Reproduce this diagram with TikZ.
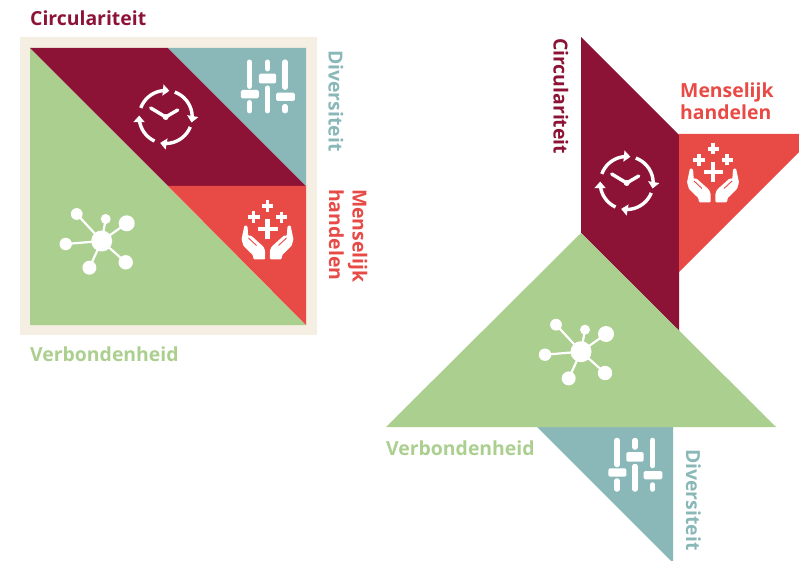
\documentclass[tikz,border=0pt]{standalone}
\usepackage{fontspec}
\setmainfont{Open Sans}
\usetikzlibrary{arrows.meta}
\definecolor{cmaroon}{HTML}{8C1336}
\definecolor{cteal}{HTML}{8AB8B8}
\definecolor{cred}{HTML}{E84A45}
\definecolor{cgreen}{HTML}{ABCF8F}
\definecolor{cbeige}{HTML}{F5EEE2}
\tikzset{
  x=1pt,y=-1pt,
  lab/.style={inner sep=0pt,font=\fontsize{19.4}{24}\selectfont\bfseries},
  vlab/.style={lab,rotate=-90,anchor=base west},
  hlab/.style={lab,anchor=base west},
  arcline/.style={white,line width=3.4pt,-{Triangle[length=6.5pt,width=11pt]}},
  clockicon/.pic={
    \foreach \a/\b in {200/278,290/372,382/462,475/543}{
      \draw[arcline] plot[smooth,domain=\a:\b,samples=12] ({26.5*cos(\x)},{26.5*sin(\x)});
    }
    \draw[white,line width=3.4pt,line cap=round] (-15,-9) -- (0,0) -- (12,-7);
    \fill[white] (0,0) circle (3);
  },
  bar/.style={white,line width=5.5pt,line cap=round},
  slidericon/.pic={
    \draw[bar] (-18,-24.5) -- (-18,-0.5) (-18,16) -- (-18,24);
    \draw[bar] (0,-24.5) -- (0,-18) (0,1.5) -- (0,24);
    \draw[bar] (17.7,-24.5) -- (17.7,0.5) (17.7,20) -- (17.7,24);
    \fill[white,rounded corners=1.5pt] (-26.7,3.3) rectangle (-8.7,11.7);
    \fill[white,rounded corners=1.5pt] (-8.7,-13) rectangle (8.7,-3.3);
    \fill[white,rounded corners=1.5pt] (8.7,6) rectangle (27.3,14.3);
  },
  neticon/.pic={
    \foreach \p/\q/\r in {-25/-27/5.9,4/-22/5,25/-17.7/8,-36/3/6.2,-12.3/26.7/7,24/21.3/7.2}{
      \draw[white,line width=2.2pt] (0,0) -- (\p,\q);
      \fill[white] (\p,\q) circle (\r);
    }
    \fill[white] (0,0) circle (10.5);
  },
  pluss/.style={white,line width=3.5pt},
  handicon/.pic={
    \draw[white,line width=4.6pt] (-9.5,-2) -- (10,-2) (0,-12) -- (0,8);
    \draw[pluss] (-5.5,-25) -- (5.5,-25) (0,-30.5) -- (0,-19.5);
    \draw[pluss] (-20,-14) -- (-8,-14) (-14,-20) -- (-14,-8);
    \draw[pluss] (8.5,-14) -- (19.5,-14) (14,-19.5) -- (14,-8.5);
    \foreach \s in {1,-1}{
      \begin{scope}[xscale=\s]
      \fill[white,rounded corners=1pt] (-23,-5.7) -- (-20,-5) -- (-19.3,5) -- (-16.7,4.3) -- (-4,15.7) -- (-2.3,20) -- (-2.3,28.3) -- (-14,28.3) -- (-14.7,24) -- (-24,15) -- (-26,8.3) -- cycle;
      \draw[cred,line width=0.9pt] (-19,7) -- (-11,14.5);
      \end{scope}
    }
  }
}
\begin{document}
\begin{tikzpicture}
\useasboundingbox (0,0) rectangle (799,561);
% left square
\fill[cbeige] (20,37) rectangle (317,335);
\fill[cgreen] (30,48) -- (306,325) -- (30,325) -- cycle;
\fill[cmaroon] (30,48) -- (168,48) -- (306,186) -- (168,186) -- cycle;
\fill[cteal] (168,48) -- (306,48) -- (306,186) -- cycle;
\fill[cred] (168,186) -- (306,186) -- (306,325) -- cycle;
\pic at (165.7,117) {clockicon};
\pic at (267.5,86.7) {slidericon};
\pic at (101.7,241) {neticon};
\pic at (267.5,231) {handicon};
\node[hlab,text=cmaroon] (lc) at (30,26) {Circulariteit};
\node[vlab,text=cteal] (ld) at (328.5,50) {Diversiteit};
\node[vlab,text=cred] (lm) at (352.5,189) {Menselijk};
\node[vlab,text=cred] (lh) at (329,189) {handelen};
\node[hlab,text=cgreen] (lv) at (30,361) {Verbondenheid};
% right figure
\fill[cmaroon] (581,37) -- (679,135) -- (679,331) -- (581,233) -- cycle;
\fill[cred] (679,134) -- (799,134) -- (799,152) -- (679,272) -- cycle;
\fill[cteal] (537,427) -- (673,427) -- (673,561) -- (671,561) -- cycle;
\fill[cgreen] (581,233) -- (776,427) -- (386,427) -- cycle;
\pic at (626.7,183) {clockicon};
\pic at (635,465) {slidericon};
\pic at (581,351.7) {neticon};
\pic at (713,174) {handicon};
\node[vlab,text=cmaroon] (rc) at (553.5,38) {Circulariteit};
\node[hlab,text=cred] (rm) at (680,97.7) {Menselijk};
\node[hlab,text=cred] (rh) at (680,120) {handelen};
\node[hlab,text=cgreen] (rv) at (386,455.7) {Verbondenheid};
\node[vlab,text=cteal] (rd) at (686,449) {Diversiteit};
\end{tikzpicture}
\end{document}
